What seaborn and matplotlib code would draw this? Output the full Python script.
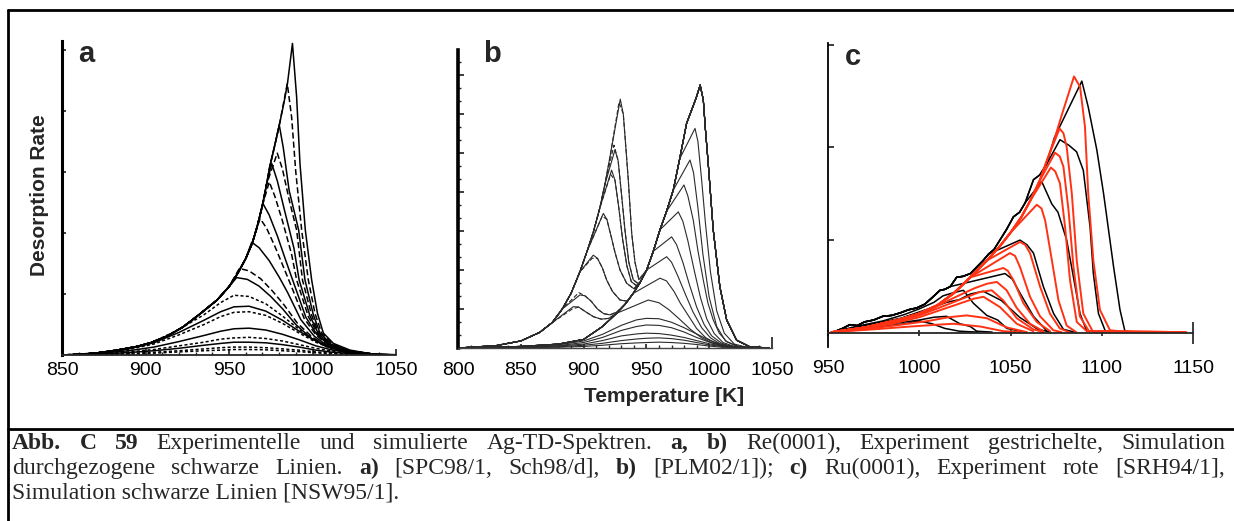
import matplotlib
matplotlib.use("Agg")
import matplotlib.pyplot as plt
from matplotlib.lines import Line2D
from matplotlib.ticker import MultipleLocator
import pandas as pd
import seaborn as sns

# ---------------- panel a : Re(0001), [SPC98/1, Sch98/d] ----------------
a_env_T = [850, 855, 870, 883, 895, 903, 913, 922.5, 932, 942.8, 950, 955, 960, 964, 967, 970, 972.5, 974.5, 977.5, 980.5, 983, 985, 986.5]
a_env_y = [0.0, 0.0, 0.03, 0.08, 0.14, 0.2, 0.31, 0.46, 0.66, 0.9, 1.12, 1.33, 1.58, 1.84, 2.12, 2.45, 2.8, 3.1, 3.45, 3.82, 4.15, 4.45, 4.75]

a_sim_peak_T = [988, 980.1, 975.6, 970.2, 963.6, 954.6]
a_sim_peak_y = [5.11, 3.77, 3.14, 2.49, 1.85, 1.27]
a_sim_tails = [
    [(990.5, 4.23), (992.5, 3.14), (995.7, 2.05), (999.5, 1.23), (1003, 0.68), (1006.5, 0.36), (1012.5, 0.19), (1022.5, 0.08), (1035, 0.02), (1050, 0.005)],
    [(982.5, 3.4), (986, 2.7), (991.7, 2.05), (995.5, 1.23), (1000.5, 0.66), (1004.5, 0.36), (1011, 0.18), (1021, 0.07), (1035, 0.02)],
    [(979, 2.85), (983, 2.4), (988.9, 1.75), (992, 1.23), (998.5, 0.64), (1003.5, 0.35), (1010.5, 0.17), (1021, 0.07), (1035, 0.02)],
    [(974, 2.3), (979, 1.95), (984, 1.55), (988.5, 1.2), (996, 0.62), (1002.5, 0.34), (1010, 0.16), (1020, 0.06), (1035, 0.015)],
    [(968, 1.76), (974, 1.55), (980, 1.28), (985, 1.03), (993, 0.58), (1001, 0.31), (1009, 0.15), (1020, 0.06), (1035, 0.015)],
    [(961, 1.24), (968, 1.13), (975, 0.96), (982, 0.76), (990, 0.5), (999, 0.28), (1008, 0.14), (1020, 0.05), (1035, 0.01)],
]
a_exp_peak_T = [984.9, 978.9, 974.1, 968.6, 956.2]
a_exp_peak_y = [4.45, 3.31, 2.84, 2.24, 1.42]
a_exp_tails = [
    [(987.5, 3.9), (990, 3.0), (993.5, 2.05), (997.5, 1.23), (1001.5, 0.68), (1005.5, 0.36), (1012, 0.18), (1022, 0.07), (1035, 0.02)],
    [(982, 3.05), (986, 2.55), (990.5, 2.05), (994, 1.23), (999.5, 0.65), (1004, 0.35), (1011, 0.17), (1021, 0.07), (1035, 0.02)],
    [(977.5, 2.6), (982, 2.2), (987.5, 1.65), (990.5, 1.23), (997.5, 0.63), (1003, 0.35), (1010, 0.17), (1020, 0.07), (1035, 0.02)],
    [(972.5, 2.08), (977.5, 1.78), (982.5, 1.45), (987, 1.15), (995, 0.6), (1002, 0.33), (1009.5, 0.16), (1020, 0.06), (1035, 0.015)],
    [(962, 1.38), (969, 1.25), (976, 1.05), (983, 0.82), (991, 0.52), (1000, 0.29), (1009, 0.14), (1020, 0.05), (1035, 0.01)],
]
# low coverage spectra on a common temperature grid
a_low_T = [850, 870, 890, 905, 920, 935, 945, 953, 962, 972, 982, 992, 1002, 1012, 1025, 1040, 1050]
a_low_kind = ["exp", "sim", "exp", "sim", "exp", "sim", "exp", "exp"]
a_low_y = [
    [0.0, 0.03, 0.1, 0.22, 0.42, 0.66, 0.86, 0.98, 0.96, 0.84, 0.64, 0.42, 0.24, 0.11, 0.04, 0.01, 0.0],
    [0.0, 0.03, 0.1, 0.2, 0.37, 0.57, 0.71, 0.79, 0.8, 0.72, 0.57, 0.39, 0.23, 0.11, 0.04, 0.01, 0.0],
    [0.0, 0.03, 0.09, 0.18, 0.33, 0.5, 0.63, 0.7, 0.71, 0.65, 0.52, 0.36, 0.21, 0.1, 0.04, 0.01, 0.0],
    [0.0, 0.02, 0.07, 0.13, 0.22, 0.32, 0.39, 0.43, 0.44, 0.41, 0.34, 0.25, 0.15, 0.08, 0.03, 0.01, 0.0],
    [0.0, 0.02, 0.05, 0.09, 0.15, 0.21, 0.26, 0.28, 0.29, 0.27, 0.23, 0.17, 0.11, 0.06, 0.02, 0.005, 0.0],
    [0.0, 0.01, 0.04, 0.07, 0.11, 0.16, 0.19, 0.21, 0.21, 0.2, 0.17, 0.13, 0.08, 0.045, 0.02, 0.005, 0.0],
    [0.0, 0.01, 0.025, 0.045, 0.07, 0.1, 0.12, 0.13, 0.13, 0.12, 0.1, 0.08, 0.05, 0.03, 0.01, 0.003, 0.0],
    [0.0, 0.005, 0.015, 0.03, 0.05, 0.07, 0.08, 0.09, 0.09, 0.085, 0.07, 0.055, 0.035, 0.02, 0.008, 0.002, 0.0],
]

# ---------------- panel b : Re(0001), [PLM02/1] ----------------
# leading edge of the monolayer (high T) and second layer (low T) peak
b_mono_env_T = [800, 850, 880, 900, 915, 926.3, 933, 939.5, 945, 950.2, 955.5, 960.8, 966, 971.4, 976.5, 982, 986, 989.5]
b_mono_env_y = [0.0, 0.04, 0.1, 0.22, 0.55, 0.89, 1.12, 1.4, 1.68, 2.0, 2.48, 3.03, 3.5, 4.05, 4.85, 5.76, 6.1, 6.4]
b_sat_peak = (992.8, 6.74)
b_sat_tail = [(995.3, 6.36), (997, 5.6), (999.2, 4.74), (1003.2, 3.03), (1008.5, 1.57), (1013.9, 0.72), (1021.8, 0.2), (1032.4, 0.03), (1048, 0.0)]
b_mono_peak_T = [988.7, 984.7, 979.9, 975.4, 970.1, 966.1, 960.8, 951.5]
b_mono_peak_y = [5.63, 4.82, 4.18, 3.49, 2.85, 2.34, 1.79, 1.23]
b_mono_tails = [
    [(991, 5.3), (994, 4.3), (997, 3.2), (1001, 1.95), (1006, 0.95), (1012, 0.38), (1020, 0.1), (1030, 0.02), (1045, 0.0)],
    [(987.5, 4.5), (991, 3.6), (995, 2.4), (1000, 1.3), (1006, 0.55), (1013, 0.18), (1022, 0.04), (1035, 0.0)],
    [(983, 3.9), (987.3, 3.28), (991, 2.5), (995.3, 1.74), (999, 1.15), (1003.2, 0.72), (1008, 0.38), (1014, 0.16), (1024.6, 0.03), (1040, 0.0)],
    [(979, 3.25), (983, 2.75), (988, 2.0), (993, 1.3), (998, 0.75), (1004, 0.37), (1011, 0.14), (1020, 0.04), (1035, 0.0)],
    [(974, 2.65), (979, 2.2), (984, 1.65), (990, 1.05), (996, 0.6), (1002, 0.31), (1010, 0.12), (1019, 0.03), (1035, 0.0)],
    [(970, 2.2), (975, 1.85), (981, 1.38), (987, 0.93), (994, 0.52), (1001, 0.26), (1009, 0.1), (1018, 0.03), (1035, 0.0)],
    [(966, 1.72), (972, 1.45), (977, 1.15), (983, 0.85), (990, 0.5), (997, 0.27), (1005, 0.12), (1015, 0.04), (1030, 0.0)],
    [(960, 1.16), (968, 0.98), (976, 0.75), (985, 0.48), (994, 0.26), (1003, 0.12), (1013, 0.04), (1030, 0.0)],
]
b_low_T = [800, 850, 880, 900, 915, 930, 942, 950, 960, 970, 980, 990, 1000, 1010, 1020, 1035]
b_low_y = [
    [0.0, 0.03, 0.08, 0.18, 0.35, 0.58, 0.72, 0.76, 0.75, 0.66, 0.52, 0.36, 0.2, 0.09, 0.03, 0.0],
    [0.0, 0.02, 0.06, 0.14, 0.27, 0.45, 0.55, 0.59, 0.58, 0.52, 0.41, 0.27, 0.15, 0.07, 0.02, 0.0],
    [0.0, 0.02, 0.05, 0.1, 0.19, 0.31, 0.36, 0.38, 0.37, 0.33, 0.27, 0.19, 0.11, 0.05, 0.02, 0.0],
    [0.0, 0.01, 0.03, 0.07, 0.12, 0.19, 0.23, 0.25, 0.26, 0.24, 0.2, 0.14, 0.08, 0.04, 0.01, 0.0],
    [0.0, 0.01, 0.02, 0.04, 0.07, 0.11, 0.13, 0.14, 0.15, 0.14, 0.12, 0.09, 0.05, 0.02, 0.01, 0.0],
]
b_multi_env_T = [800, 830, 850, 865, 875, 883, 890, 897, 903, 908, 913, 917, 921, 924.5, 927.5]
b_multi_env_y = [0.0, 0.06, 0.18, 0.4, 0.65, 1.0, 1.4, 1.95, 2.5, 3.0, 3.6, 4.2, 4.9, 5.6, 6.1]
b_multi_sim_T = [929.2, 925, 922.3, 915.7, 907.7, 897.1, 891.8]
b_multi_sim_y = [6.38, 5.08, 4.56, 3.45, 2.38, 1.36, 1.06]
b_multi_exp_T = [928.2, 924.2, 921.5, 914.8, 906.8, 896.2, 891.0]
b_multi_exp_y = [6.3, 5.2, 4.45, 3.38, 2.3, 1.42, 1.0]
b_multi_valleys = [
    [(931.6, 6.0), (933.5, 5.2), (935.6, 4.3), (938.3, 2.94), (940.9, 2.2), (944, 1.75)],
    [(927.5, 4.8), (930, 4.0), (933, 3.0), (936, 2.2), (939.5, 1.75), (943, 1.66)],
    [(925, 4.3), (928, 3.6), (931, 2.8), (934.5, 2.1), (938, 1.7), (942, 1.6)],
    [(918.5, 3.3), (922, 2.85), (925, 2.45), (929, 2.0), (934.3, 1.66), (940, 1.52)],
    [(911, 2.3), (915, 2.05), (918.4, 1.74), (923, 1.45), (929, 1.23), (935, 1.2)],
    [(901, 1.34), (906, 1.2), (911, 1.0), (916, 0.88), (921, 0.85), (926.3, 0.92)],
    [(896, 1.05), (902, 0.92), (908, 0.8), (914, 0.74), (920, 0.76), (926.3, 0.89)],
]

# ---------------- panel c : Ru(0001), [SRH94/1] / [NSW95/1] ----------------
c_red_env_T = [952, 970, 990, 1000, 1010, 1019, 1028, 1037, 1044, 1050, 1056, 1061, 1066, 1070, 1074, 1078, 1082]
c_red_env_y = [0.01, 0.06, 0.15, 0.21, 0.3, 0.43, 0.6, 0.78, 0.93, 1.08, 1.25, 1.43, 1.64, 1.86, 2.08, 2.34, 2.6]
c_red_peak_T = [1084.8, 1076.9, 1074.4, 1072.1, 1064.4, 1055.2, 1049.7, 1046.1]
c_red_peak_y = [2.76, 2.2, 1.94, 1.78, 1.38, 0.98, 0.86, 0.7]
c_red_tails = [
    [(1088.1, 2.65), (1090.8, 2.22), (1092.6, 1.5), (1095.4, 0.78), (1099, 0.25), (1104.5, 0.03), (1115, 0.01), (1146, 0.01)],
    [(1079, 2.15), (1080.8, 2.0), (1083.6, 1.5), (1086.3, 0.78), (1089.9, 0.21), (1095, 0.02), (1146, 0.01)],
    [(1077, 1.9), (1079, 1.79), (1081.8, 1.32), (1084.5, 0.71), (1088, 0.18), (1093, 0.02), (1146, 0.01)],
    [(1074.5, 1.74), (1077.1, 1.61), (1079.9, 1.14), (1082.6, 0.57), (1086.3, 0.12), (1091.8, 0.02), (1146, 0.01)],
    [(1067, 1.34), (1069, 1.21), (1072.7, 0.78), (1076.3, 0.35), (1080.8, 0.08), (1086, 0.01)],
    [(1058, 0.95), (1060.7, 0.86), (1066.2, 0.5), (1071.6, 0.21), (1077, 0.05), (1082, 0.01)],
    [(1052.5, 0.83), (1055.2, 0.71), (1060.7, 0.39), (1066.2, 0.18), (1073.5, 0.03), (1078, 0.01)],
    [(1048.5, 0.67), (1051.6, 0.57), (1057.1, 0.32), (1064.4, 0.12), (1071.7, 0.02)],
]
c_red_low = [
    [(952, 0.01), (970, 0.05), (990, 0.13), (1005, 0.24), (1018, 0.37), (1030, 0.48), (1037, 0.53), (1042.5, 0.55), (1047.9, 0.46), (1053.4, 0.27), (1060.7, 0.1), (1068, 0.02)],
    [(952, 0.01), (970, 0.05), (985, 0.11), (1000, 0.19), (1012, 0.28), (1025, 0.38), (1033, 0.44), (1039.7, 0.46), (1046.1, 0.35), (1053.4, 0.16), (1062.5, 0.04), (1068, 0.01)],
    [(952, 0.01), (970, 0.05), (985, 0.1), (1000, 0.17), (1012, 0.25), (1024, 0.33), (1030, 0.37), (1035.2, 0.39), (1044.2, 0.28), (1053.4, 0.1), (1062.5, 0.02)],
    [(952, 0.01), (970, 0.04), (990, 0.09), (1005, 0.13), (1016, 0.17), (1026, 0.19), (1037, 0.16), (1048, 0.06), (1059, 0.01)],
    [(952, 0.01), (975, 0.04), (995, 0.07), (1010, 0.09), (1018.8, 0.1), (1033.6, 0.07), (1046, 0.02), (1055, 0.01)],
]
c_blk_env_T = [953, 958, 962, 966, 970, 975, 980, 985, 990, 994, 998.6, 1003, 1007, 1011.4, 1014, 1017, 1020.5, 1024, 1028, 1031.5, 1035, 1038, 1041, 1044.2, 1048, 1051.6, 1055, 1058, 1062.6, 1066, 1069.9, 1074, 1078.9, 1084]
c_blk_env_y = [0.01, 0.05, 0.09, 0.08, 0.12, 0.14, 0.18, 0.19, 0.22, 0.25, 0.27, 0.31, 0.38, 0.46, 0.47, 0.5, 0.6, 0.61, 0.64, 0.71, 0.78, 0.85, 0.9, 1.0, 1.12, 1.25, 1.3, 1.4, 1.65, 1.7, 1.82, 2.1, 2.47, 2.6]
c_blk_peak_T = [1089.1, 1077.1, 1067.1, 1055.2, 1047.0]
c_blk_peak_y = [2.71, 2.08, 1.63, 1.0, 0.64]
c_blk_tails = [
    [(1092.6, 2.43), (1097.3, 1.97), (1101, 1.5), (1106.5, 0.71), (1110, 0.25), (1112.7, 0.02), (1120, 0.01)],
    [(1082, 2.02), (1086.2, 1.95), (1089.9, 1.75), (1093.6, 1.14), (1095.4, 0.64), (1098.2, 0.21), (1102, 0.02)],
    [(1072.6, 1.39), (1076, 1.3), (1080.8, 1.0), (1084.5, 0.6), (1088.1, 0.21), (1091.8, 0.02)],
    [(1059, 0.95), (1062.6, 0.86), (1068, 0.5), (1073.6, 0.21), (1079, 0.04), (1085, 0.01)],
    [(1051, 0.58), (1055.2, 0.43), (1062.6, 0.18), (1070, 0.02)],
]
c_blk_low = [
    [(953, 0.01), (970, 0.08), (990, 0.16), (1005, 0.26), (1015, 0.33), (1022, 0.36), (1028, 0.42), (1035, 0.45), (1040, 0.4), (1045, 0.35), (1055, 0.17), (1065, 0.04), (1072, 0.01)],
    [(953, 0.01), (965, 0.07), (980, 0.13), (992, 0.2), (1000, 0.26), (1008, 0.33), (1013, 0.4), (1018, 0.43), (1024.2, 0.46), (1029.7, 0.32), (1037, 0.19), (1043, 0.14), (1048, 0.05), (1058, 0.01)],
    [(953, 0.01), (968, 0.05), (985, 0.1), (1000, 0.14), (1008, 0.17), (1015, 0.18), (1022.3, 0.1), (1028, 0.07), (1031.5, 0.02), (1040, 0.01)],
    [(953, 0.01), (965, 0.04), (980, 0.07), (992, 0.1), (1000, 0.13), (1007, 0.1), (1014, 0.05), (1022, 0.02), (1032, 0.01)],
]

caption_1 = [("Abb.", 1), ("C", 1), ("59", 1), ("Experimentelle", 0), ("und", 0), ("simulierte", 0),
             ("Ag-TD-Spektren.", 0), ("a,", 1), ("b)", 1), ("Re(0001),", 0), ("Experiment", 0),
             ("gestrichelte,", 0), ("Simulation", 0)]
caption_2 = [("durchgezogene", 0), ("schwarze", 0), ("Linien.", 0), ("a)", 1), ("[SPC98/1,", 0),
             ("Sch98/d],", 0), ("b)", 1), ("[PLM02/1]);", 0), ("c)", 1), ("Ru(0001),", 0),
             ("Experiment", 0), ("rote", 0), ("[SRH94/1],", 0)]
caption_3 = "Simulation schwarze Linien [NSW95/1]."


def rise(env_T, env_y, Tp, yp, frac):
    return [(t, y) for t, y in zip(env_T, env_y) if y < frac * yp and t < Tp - 1]


def frame(curves, kinds, tag):
    rows = []
    for i, (pts, k) in enumerate(zip(curves, kinds)):
        for t, y in pts:
            rows.append({"T": t, "rate": y, "curve": f"{tag}{i}", "kind": k})
    return pd.DataFrame(rows)


# --- assemble curves ---
a_curves, a_kinds = [], []
for Tp, yp, tail in zip(a_sim_peak_T, a_sim_peak_y, a_sim_tails):
    a_curves.append(rise(a_env_T, a_env_y, Tp, yp, 0.92) + [(Tp, yp)] + tail)
    a_kinds.append("sim")
for Tp, yp, tail in zip(a_exp_peak_T, a_exp_peak_y, a_exp_tails):
    a_curves.append(rise(a_env_T, a_env_y, Tp, yp, 0.92) + [(Tp, yp)] + tail)
    a_kinds.append("exp")
for ys, k in zip(a_low_y, a_low_kind):
    a_curves.append(list(zip(a_low_T, ys)))
    a_kinds.append(k if k == "sim" else "dot")
df_a = frame(a_curves, a_kinds, "a")

b_curves, b_kinds = [], []
sat_part = [b_sat_peak] + b_sat_tail
b_curves.append(list(zip(b_mono_env_T, b_mono_env_y)) + sat_part)
b_kinds.append("sim")
for Tp, yp, tail in zip(b_mono_peak_T, b_mono_peak_y, b_mono_tails):
    b_curves.append(rise(b_mono_env_T, b_mono_env_y, Tp, yp, 0.9) + [(Tp, yp)] + tail)
    b_kinds.append("sim")
for ys in b_low_y:
    b_curves.append(list(zip(b_low_T, ys)))
    b_kinds.append("sim")
for peaks_T, peaks_y, kind in [(b_multi_sim_T, b_multi_sim_y, "sim"), (b_multi_exp_T, b_multi_exp_y, "exp")]:
    for Tp, yp, valley in zip(peaks_T, peaks_y, b_multi_valleys):
        t_end = valley[-1][0]
        mono = [(t, y) for t, y in zip(b_mono_env_T, b_mono_env_y) if t > t_end + 1]
        b_curves.append(rise(b_multi_env_T, b_multi_env_y, Tp, yp, 0.85) + [(Tp, yp)] + valley + mono + sat_part)
        b_kinds.append(kind)
df_b = frame(b_curves, b_kinds, "b")

c_red = [rise(c_red_env_T, c_red_env_y, Tp, yp, 0.88) + [(Tp, yp)] + tail
         for Tp, yp, tail in zip(c_red_peak_T, c_red_peak_y, c_red_tails)] + c_red_low
c_blk = [rise(c_blk_env_T, c_blk_env_y, Tp, yp, 0.9) + [(Tp, yp)] + tail
         for Tp, yp, tail in zip(c_blk_peak_T, c_blk_peak_y, c_blk_tails)] + c_blk_low
df_c_red = frame(c_red, ["exp"] * len(c_red), "r")
df_c_blk = frame(c_blk, ["sim"] * len(c_blk), "k")

# --- figure ---
sns.set_theme(style="ticks")
plt.rcParams["font.family"] = ["Liberation Sans", "DejaVu Sans"]
W, H = 1234, 521
fig = plt.figure(figsize=(W / 100, H / 100), dpi=100)


def px_axes(x0, x1, ytop, ybot):
    return fig.add_axes([x0 / W, 1 - ybot / H, (x1 - x0) / W, (ybot - ytop) / H])


dash_map = {"sim": "", "exp": (4, 2), "dot": (2, 1.5)}

# panel a
ax_a = px_axes(62, 396, 41, 355)
sns.lineplot(data=df_a, x="T", y="rate", units="curve", style="kind", dashes=dash_map,
             estimator=None, sort=False, color="black", lw=1.1, legend=False, ax=ax_a)
ax_a.set_xlim(850, 1050)
ax_a.set_ylim(0, 5.15)
ax_a.set_xticks([850, 900, 950, 1000, 1050])
ax_a.set_yticks([1, 2, 3, 4, 5])
ax_a.set_yticklabels([])
ax_a.xaxis.set_minor_locator(MultipleLocator(10))
ax_a.tick_params(axis="x", which="major", direction="in", length=4, labelsize=14, pad=5)
ax_a.tick_params(axis="x", which="minor", direction="in", length=2.5)
ax_a.tick_params(axis="y", direction="in", length=3)
ax_a.spines["left"].set_linewidth(2.2)
ax_a.spines["bottom"].set_linewidth(1.3)

# panel b
ax_b = px_axes(458, 772, 50, 348)
sns.lineplot(data=df_b, x="T", y="rate", units="curve", style="kind", dashes=dash_map,
             estimator=None, sort=False, color="#2a2a2a", lw=0.8, legend=False, ax=ax_b)
ax_b.set_xlim(800, 1050)
ax_b.set_ylim(0, 7.64)
ax_b.set_xticks([800, 850, 900, 950, 1000, 1050])
ax_b.set_yticks(range(1, 8))
ax_b.set_yticklabels([])
ax_b.xaxis.set_minor_locator(MultipleLocator(10))
ax_b.yaxis.set_minor_locator(MultipleLocator(1 / 3))
ax_b.tick_params(axis="x", which="major", direction="in", length=3, labelsize=14, pad=10)
ax_b.tick_params(axis="x", which="minor", direction="in", length=2)
ax_b.tick_params(axis="y", which="major", direction="in", length=4)
ax_b.tick_params(axis="y", which="minor", direction="in", length=2)
ax_b.xaxis.get_major_ticks()[-1].tick1line.set_markersize(8)
ax_b.spines["left"].set_linewidth(2.6)
ax_b.spines["bottom"].set_linewidth(1.0)
ax_b.spines["bottom"].set_color("#444444")

# panel c
ax_c = px_axes(828, 1193, 43, 347)
sns.lineplot(data=df_c_blk, x="T", y="rate", units="curve", estimator=None, sort=False,
             color="black", lw=1.1, legend=False, ax=ax_c)
sns.lineplot(data=df_c_red, x="T", y="rate", units="curve", estimator=None, sort=False,
             color="#ff3214", lw=1.4, legend=False, ax=ax_c)
ax_c.set_xlim(950, 1150)
ax_c.set_ylim(-0.15, 3.12)
ax_c.spines["bottom"].set_position(("data", 0))
ax_c.set_xticks([950, 1000, 1050, 1100, 1150])
ax_c.set_yticks([1, 2, 3.1])
ax_c.set_yticklabels([])
ax_c.tick_params(axis="x", direction="inout", length=5, labelsize=14, pad=17)
ax_c.tick_params(axis="y", direction="in", length=4)
ax_c.xaxis.get_major_ticks()[-1].tick1line.set_markersize(16)
ax_c.spines["left"].set_linewidth(1.3)
ax_c.spines["bottom"].set_linewidth(1.3)

for ax in (ax_a, ax_b, ax_c):
    ax.spines["top"].set_visible(False)
    ax.spines["right"].set_visible(False)
    ax.spines["left"].set_color("black")
    ax.set_xlabel("")
    ax.set_ylabel("")
    ax.patch.set_alpha(0)
    for lab in ax.get_xticklabels():
        lab.set_color("black")

# panel letters and axis titles
for letter, x, y in [("a", 78, 62), ("b", 483, 62), ("c", 845, 65)]:
    fig.text(x / W, 1 - y / H, letter, fontsize=21, fontweight="bold", va="baseline")
fig.text(40 / W, 1 - 195 / H, "Desorption Rate", rotation=90, fontsize=15,
         fontweight="bold", ha="center", va="center")
fig.text(664 / W, 1 - 397 / H, "Temperature [K]", fontsize=15, fontweight="bold",
         ha="center", va="center")

# frame lines
for xs, ys in [((8, W), (10, 10)), ((8, 8), (10, H)), ((8, W), (429, 429))]:
    fig.add_artist(Line2D([x / W for x in xs], [1 - y / H for y in ys], color="black", lw=2))

# caption (justified lines)
cap_font = ["Liberation Serif", "DejaVu Serif"]
cap_size = 17
renderer = fig.canvas.get_renderer()


def caption_line(words, base_y, x0=12, x1=1225):
    texts = [fig.text(0, 1 - base_y / H, w, fontsize=cap_size, family=cap_font,
                      fontweight="bold" if b else "normal", va="baseline") for w, b in words]
    widths = [t.get_window_extent(renderer).width for t in texts]
    gap = (x1 - x0 - sum(widths)) / (len(words) - 1)
    x = x0
    for t, w in zip(texts, widths):
        t.set_x(x / W)
        x += w + gap


caption_line(caption_1, 449)
caption_line(caption_2, 474)
fig.text(12 / W, 1 - 499 / H, caption_3, fontsize=cap_size, family=cap_font, va="baseline")

fig.savefig("out.png", dpi=100, facecolor="white")
